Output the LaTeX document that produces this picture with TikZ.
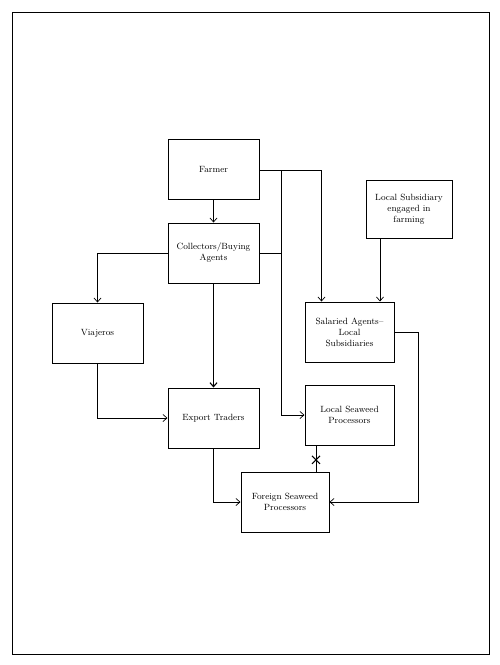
\documentclass[tikz,border=0pt]{standalone}
\usepackage{tikz}
\usetikzlibrary{positioning, arrows.meta, shapes.misc}
\tikzset{
  box/.style={draw, line width=1pt, align=center, font=\small,
              minimum width=91pt, minimum height=60pt, inner sep=2pt},
  fl/.style={-{Straight Barb[length=4pt, width=7pt]}, line width=0.7pt},
  ln/.style={line width=0.7pt},
  xmark/.style={cross out, draw, line width=1pt, minimum size=7pt, inner sep=0pt},
}

\begin{document}
\begin{tikzpicture}[x=1pt, y=-1pt, node distance=23pt]
  \useasboundingbox (0,0) rectangle (500,665);
  \draw[line width=1pt] (12,12) rectangle (489,654);
  % ---------- boxes ----------
  \node[box] (farmer) at (213.5,169) {Farmer};
  \node[box, below=of farmer] (col) {Collectors/Buying\\Agents};
  \node[box] (via) at (97.5,333) {Viajeros};
  \node[box, below=104pt of col] (exp) {Export Traders};
  \node[box, minimum width=86pt, minimum height=58pt] (lsub) at (409,209) {Local Subsidiary\\engaged in\\farming};
  \node[box, minimum width=89pt] (sal) at (349.5,332) {Salaried Agents--\\Local\\Subsidiaries};
  \node[box, minimum width=89pt, below=22pt of sal] (lsp) {Local Seaweed\\Processors};
  \node[box, minimum width=88pt] (fsp) at (285,502) {Foreign Seaweed\\Processors};
  % ---------- junctions ----------
  \coordinate (jn) at (281,170);
  \coordinate (rt) at (418,332);
  % ---------- connectors ----------
  \draw[fl] (farmer) -- (col);
  \draw[fl] (farmer.east |- jn) -| ([xshift=17pt]sal.north west);
  \draw[fl] (jn) |- (lsp.west);
  \draw[ln] (col.east) -- (jn |- col.east);
  \draw[fl] (col.west) -| (via.north);
  \draw[fl, line width=1.1pt] (col) -- (exp);
  \draw[fl] (via.south) |- (exp.west);
  \draw[fl] ([xshift=-29pt]lsub.south) -- ([xshift=-29pt]lsub.south |- sal.north);
  \draw[fl] (sal.east) -- (rt) |- (fsp.east);
  \draw[fl] (exp.south) |- (fsp.west);
  \draw[ln] ([xshift=-33.5pt]lsp.south) -- ([xshift=-33.5pt]lsp.south |- fsp.north)
    node[xmark, pos=0.55] (xm) {};
\end{tikzpicture}
\end{document}
